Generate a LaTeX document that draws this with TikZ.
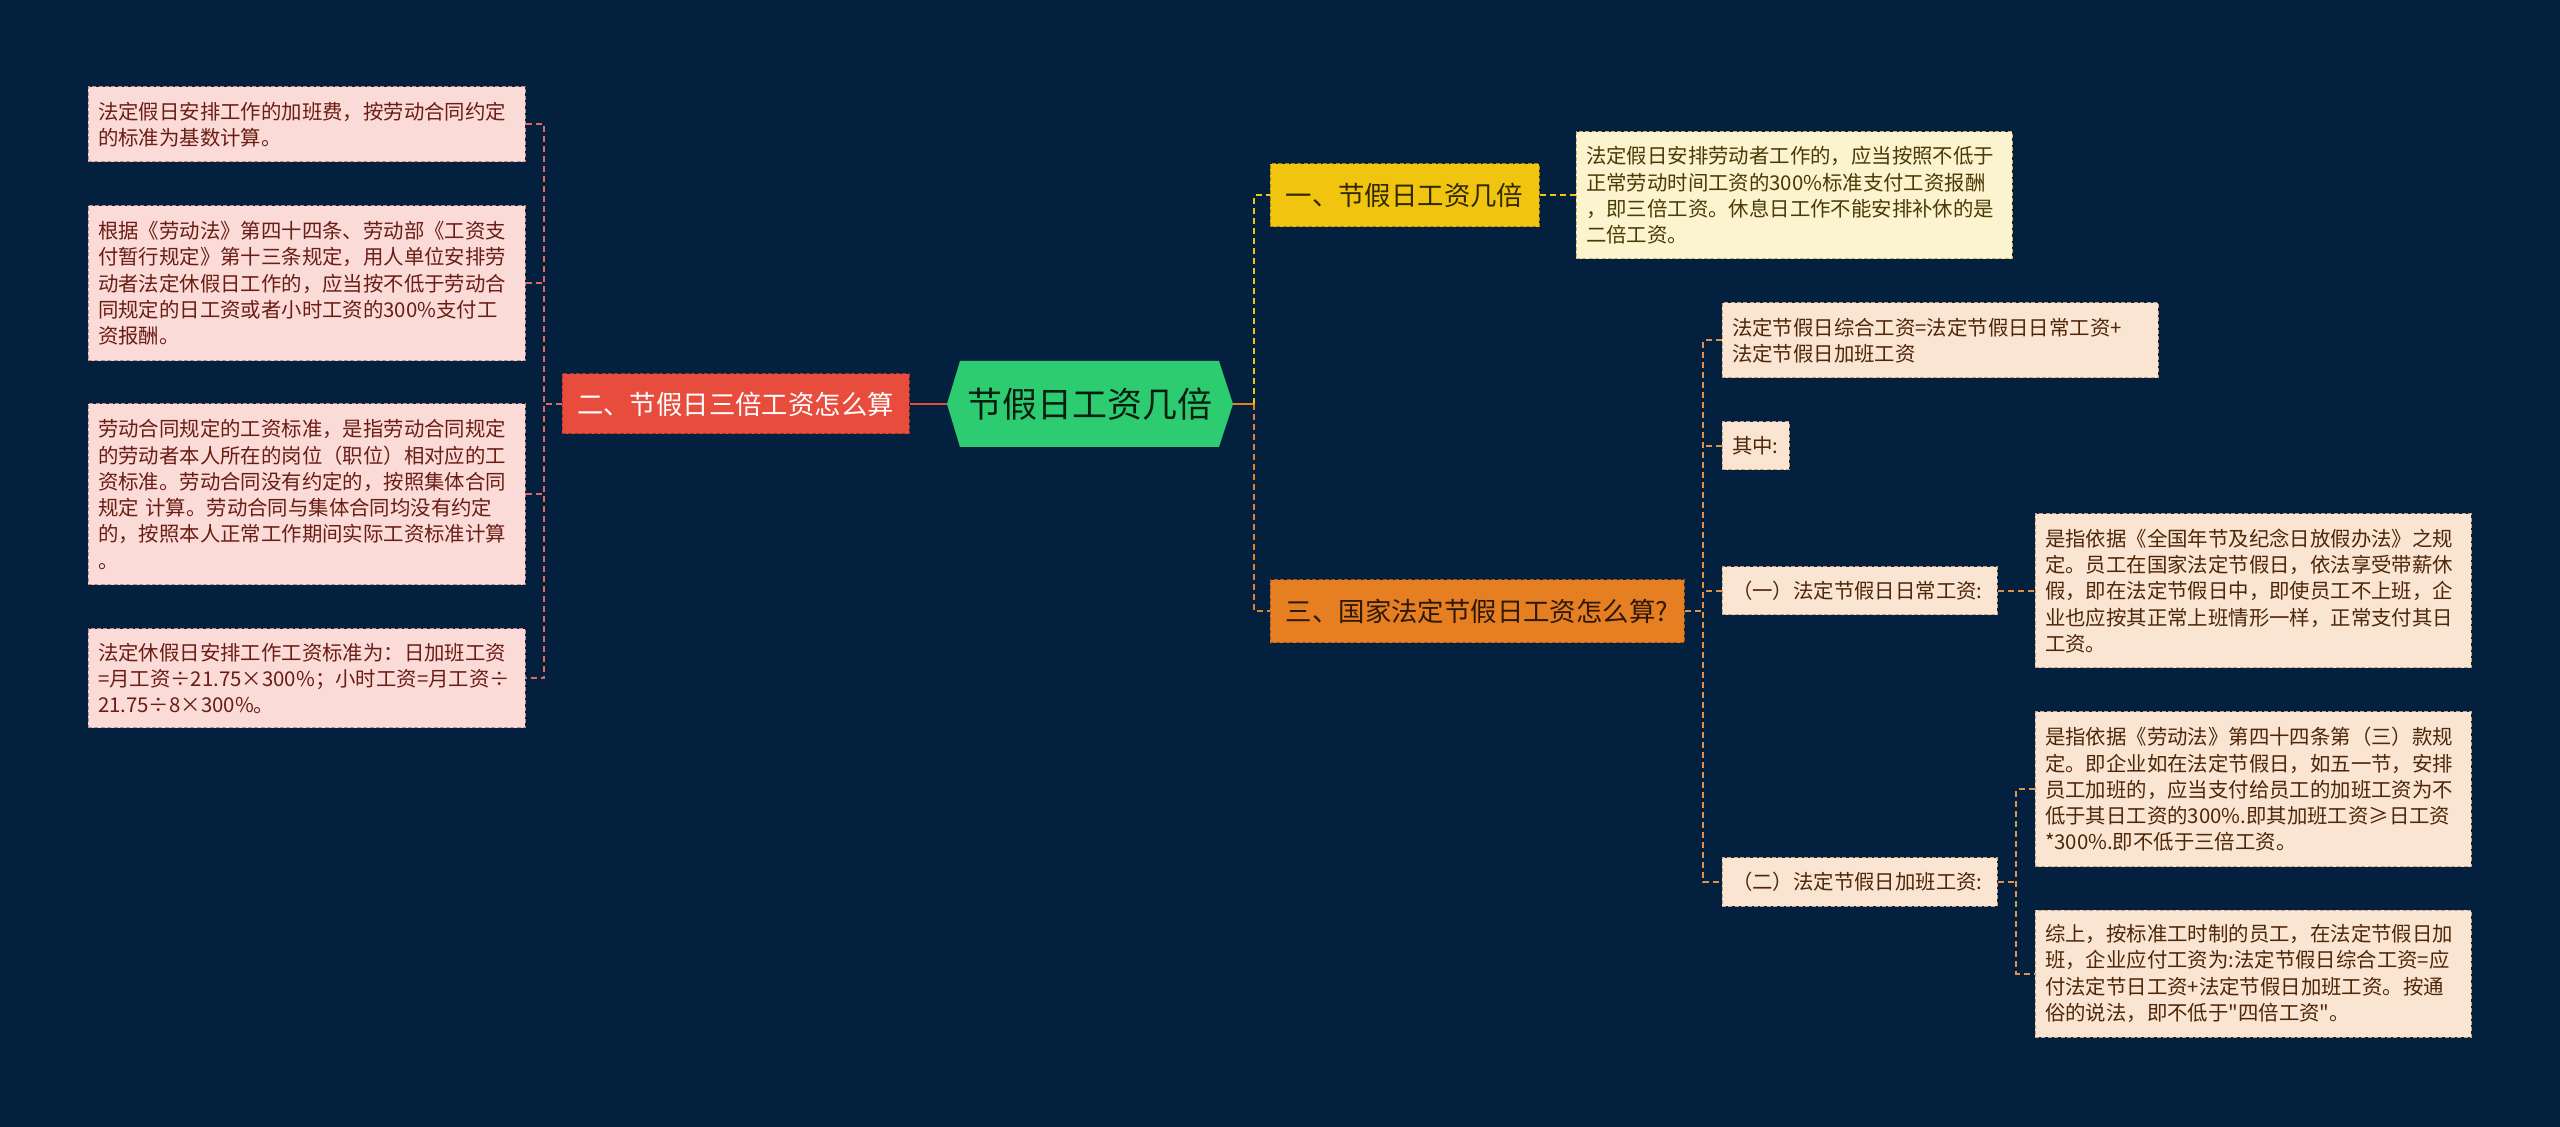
\documentclass[tikz,border=0pt]{standalone}
\usepackage{fontspec}
\setmainfont{Noto Sans CJK SC}[Ligatures=TeXOff]
\definecolor{bg}{HTML}{03213F}
\definecolor{pinkfill}{HTML}{FADBD8}
\definecolor{pinkedge}{HTML}{C98A83}
\definecolor{pinktext}{HTML}{6B1D14}
\definecolor{yelfill}{HTML}{FCF3CF}
\definecolor{yeledge}{HTML}{C9B56A}
\definecolor{yeltext}{HTML}{4A3A05}
\definecolor{orfill}{HTML}{FAE5D3}
\definecolor{oredge}{HTML}{C9A283}
\definecolor{ortext}{HTML}{4E2608}
\definecolor{redc}{HTML}{E74C3C}
\definecolor{redline}{HTML}{E0675A}
\definecolor{yelc}{HTML}{F1C40F}
\definecolor{orc}{HTML}{E67E22}
\definecolor{orline}{HTML}{E0914A}
\definecolor{greenc}{HTML}{2ECC71}
\begin{document}
\begin{tikzpicture}[x=0.5pt,y=-0.5pt,
  leafbase/.style={rectangle, inner xsep=5pt, inner ysep=0pt, align=left,
    font=\fontsize{10.2pt}{13.15pt}\selectfont, dash pattern=on 2pt off 1.2pt, line width=0.5pt},
  pinkleaf/.style={leafbase, fill=pinkfill, draw=pinkedge, text=pinktext},
  yelleaf/.style={leafbase, fill=yelfill, draw=yeledge, text=yeltext},
  orleaf/.style={leafbase, fill=orfill, draw=oredge, text=ortext},
  catbox/.style={rectangle, inner sep=0pt, align=center,
    font=\fontsize{13.2pt}{16pt}\selectfont, dash pattern=on 2pt off 1.2pt, line width=0.5pt},
  conn/.style={line width=1pt, dash pattern=on 3pt off 2pt},
  lconn/.style={conn, draw=redline},
  yconn/.style={conn, draw=yelc},
  oconn/.style={conn, draw=orc},
  o2conn/.style={conn, draw=orline},
]
\fill[bg] (0,0) rectangle (2560,1127);
\useasboundingbox (0,0) rectangle (2560,1127);

% central node
\fill[greenc] (947,404) -- (960,361) -- (1219,361) -- (1233,404) -- (1219,447) -- (960,447) -- cycle;
\node[inner sep=0pt, minimum width=143pt, minimum height=43pt, text=black!85!greenc,
  font=\fontsize{17.5pt}{20pt}\selectfont] (root) at (1090,404) {节假日工资几倍};

% left branch
\node[catbox, fill=redc, draw=redc!70!black, text=white, minimum width=173.5pt, minimum height=30pt]
  (n2) at (735.5,404) {二、节假日三倍工资怎么算};
\node[pinkleaf, text width=208.5pt, minimum height=37.5pt] (l1) at (306.5,124.5)
  {法定假日安排工作的加班费，按劳动合同约定\\的标准为基数计算。};
\node[pinkleaf, text width=208.5pt, minimum height=77.5pt] (l2) at (306.5,283.5)
  {根据《劳动法》第四十四条、劳动部《工资支\\付暂行规定》第十三条规定，用人单位安排劳\\动者法定休假日工作的，应当按不低于劳动合\\同规定的日工资或者小时工资的300\%支付工\\资报酬。};
\node[pinkleaf, text width=208.5pt, minimum height=90.5pt] (l3) at (306.5,494.5)
  {劳动合同规定的工资标准，是指劳动合同规定\\的劳动者本人所在的岗位（职位）相对应的工\\资标准。劳动合同没有约定的，按照集体合同\\规定 计算。劳动合同与集体合同均没有约定\\的，按照本人正常工作期间实际工资标准计算\\。};
\node[pinkleaf, text width=208.5pt, minimum height=49.5pt] (l4) at (306.5,678.5)
  {法定休假日安排工作工资标准为：日加班工资\\=月工资÷21.75×300\%；小时工资=月工资÷\\21.75÷8×300\%。};

\coordinate (lb) at (544,404);
\draw[line width=1.2pt, draw=redc] (root.west) -- (n2.east);
\draw[lconn] (n2.west) -- (lb);
\draw[lconn] (l1.east) -- (l1.east -| lb) -- (l4.east -| lb) -- (l4.east);
\draw[lconn] (l2.east) -- (l2.east -| lb);
\draw[lconn] (l3.east) -- (l3.east -| lb);

% right branch
\node[catbox, fill=yelc, draw=yelc!70!black, text=black!80!yelc, minimum width=134.5pt, minimum height=31.5pt]
  (n1) at (1404.5,195.5) {一、节假日工资几倍};
\node[yelleaf, text width=208pt, minimum height=63.5pt] (y1) at (1794,195.5)
  {法定假日安排劳动者工作的，应当按照不低于\\正常劳动时间工资的300\%标准支付工资报酬\\，即三倍工资。休息日工作不能安排补休的是\\二倍工资。};
\node[catbox, fill=orc, draw=orc!70!black, text=black!80!orc, minimum width=207pt, minimum height=31.5pt]
  (n3) at (1477,611.5) {三、国家法定节假日工资怎么算?};

\coordinate (rb) at (1254,404);
\draw[line width=1.2pt, draw=orc] (root.east) -- (rb);
\draw[yconn] (rb) |- (n1.west);
\draw[oconn] (rb) |- (n3.west);
\draw[yconn] (n1.east) -- (y1.west);

\node[orleaf, text width=208pt, minimum height=37.5pt] (c1) at (1940,340.5)
  {法定节假日综合工资=法定节假日日常工资+\\法定节假日加班工资};
\node[orleaf, text width=23.5pt, minimum height=24pt] (c2) at (1755.5,446) {其中:};
\node[orleaf, text width=127.5pt, minimum height=24pt] (c3) at (1859.5,591) {（一）法定节假日日常工资:};
\node[orleaf, text width=127.5pt, minimum height=24pt] (c4) at (1859.5,882) {（二）法定节假日加班工资:};
\node[orleaf, text width=208pt, minimum height=77pt] (d1) at (2253,591)
  {是指依据《全国年节及纪念日放假办法》之规\\定。员工在国家法定节假日，依法享受带薪休\\假，即在法定节假日中，即使员工不上班，企\\业也应按其正常上班情形一样，正常支付其日\\工资。};
\node[orleaf, text width=208pt, minimum height=77.5pt] (e1) at (2253,789.5)
  {是指依据《劳动法》第四十四条第（三）款规\\定。即企业如在法定节假日，如五一节，安排\\员工加班的，应当支付给员工的加班工资为不\\低于其日工资的300\%.即其加班工资≥日工资\\{}*300\%.即不低于三倍工资。};
\node[orleaf, text width=208pt, minimum height=63.5pt] (e2) at (2253,973.5)
  {综上，按标准工时制的员工，在法定节假日加\\班，企业应付工资为:法定节假日综合工资=应\\付法定节日工资+法定节假日加班工资。按通\\俗的说法，即不低于"四倍工资"。};

\coordinate (b3) at (1703,611.5);
\draw[o2conn] (n3.east) -- (b3);
\draw[o2conn] (c1.west) -- (c1.west -| b3) -- (c4.west -| b3) -- (c4.west);
\draw[o2conn] (c2.west) -- (c2.west -| b3);
\draw[o2conn] (c3.west) -- (c3.west -| b3);
\draw[o2conn] (c3.east) -- (d1.west);

\coordinate (b4) at (2016,882);
\draw[o2conn] (c4.east) -- (b4);
\draw[o2conn] (e1.west) -- (e1.west -| b4) -- (e2.west -| b4) -- (e2.west);
\end{tikzpicture}
\end{document}
